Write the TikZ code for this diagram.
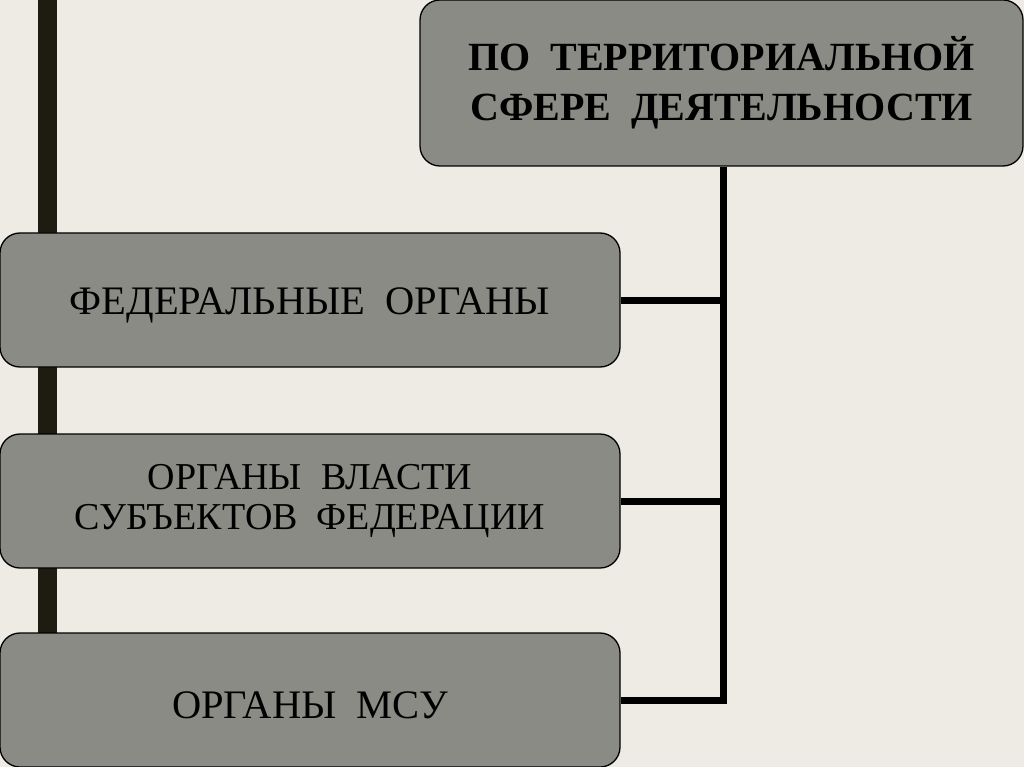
\documentclass[tikz,border=0pt]{standalone}
\usepackage{fontspec}
\setmainfont{Liberation Serif}
\usepackage{tikz}
\definecolor{fond}{HTML}{EDEBE3}
\definecolor{balken}{HTML}{1C1C10}
\definecolor{kasten}{HTML}{8B8B85}
\tikzset{
  grundbox/.style={draw=black,fill=kasten,line width=1.3pt,rounded corners=20pt,
    inner sep=0pt,align=center,text=black,minimum width=620pt,minimum height=134pt},
  box/.style={grundbox,font=\fontsize{40.5}{42}\selectfont,
    execute at begin node={\rule{0pt}{37pt}}},
  zweizeilig/.style={grundbox,font=\fontsize{38}{40}\selectfont,
    execute at begin node={\rule{0pt}{35pt}}},
  kopf/.style={grundbox,minimum width=603pt,minimum height=166pt,
    font=\fontsize{40}{50}\selectfont\bfseries,
    execute at begin node={\rule{0pt}{32pt}}},
  verb/.style={black,line width=7pt,line join=miter},
}
\begin{document}
\begin{tikzpicture}[x=1pt,y=-1pt]
  \fill[fond] (0,0) rectangle (1024,767);
  \useasboundingbox (0,0) rectangle (1024,767);
  \fill[balken] (38,0) rectangle (57,767);
  \node[kopf] (terr) at (721.5,83) {ПО\ \ ТЕРРИТОРИАЛЬНОЙ\\СФЕРЕ\ \ ДЕЯТЕЛЬНОСТИ};
  \node[box] (fed) at (310,300) {ФЕДЕРАЛЬНЫЕ\ \ ОРГАНЫ};
  \node[zweizeilig] (subj) at (310,501) {ОРГАНЫ\ \ ВЛАСТИ\\СУБЪЕКТОВ\ \ ФЕДЕРАЦИИ};
  \node[box] (msu) at (310,700) {ОРГАНЫ\ \ МСУ};
  \coordinate (stamm) at ([xshift=1.5pt]terr.south);
  \draw[verb] (stamm) |- (msu.east);
  \draw[verb] (fed.east) -- (fed.east -| stamm);
  \draw[verb] (subj.east) -- (subj.east -| stamm);
\end{tikzpicture}
\end{document}
